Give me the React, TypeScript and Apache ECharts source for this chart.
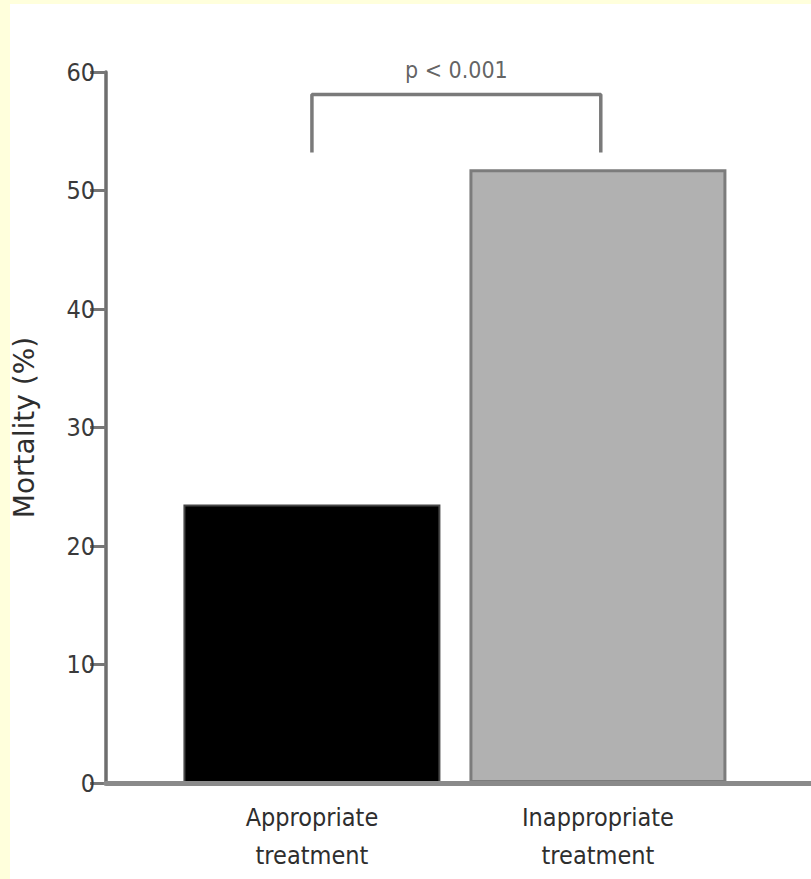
import React, { useEffect, useRef } from "react";
import * as echarts from "echarts";

// Data
const categories: string[] = ["Appropriate\ntreatment", "Inappropriate\ntreatment"];
const categoryPositions: number[] = [1, 2];
const mortality: number[] = [23.5, 51.8];
const yTicks = { min: 0, max: 60, interval: 10 };
const bracketX: number[] = [1, 1, 2.01, 2.01];
const bracketY: number[] = [53.2, 58.1, 58.1, 53.2];
const pLabel = "p < 0.001";
const yName = "Mortality (%)";

const NARROW = "'Liberation Sans Narrow', 'DejaVu Sans Condensed', 'Arial Narrow', sans-serif";

export default function App() {
  const ref = useRef<HTMLDivElement>(null);
  useEffect(() => {
    document.body.style.margin = "0";
    if (!ref.current) return;
    const chart = echarts.init(ref.current, undefined, { renderer: "svg" });
    const barStyles = [
      { color: "#000000", borderColor: "#474747", borderWidth: 2 },
      { color: "#b1b1b1", borderColor: "#7c7c7c", borderWidth: 3 },
    ];
    chart.setOption({
      animation: false,
      backgroundColor: "#ffffdc",
      graphic: [
        {
          type: "rect",
          z: -100,
          silent: true,
          shape: { x: 10, y: 4, width: 801, height: 875 },
          style: { fill: "#ffffff" },
        },
      ],
      grid: { left: 106, right: 0, top: 72, bottom: 96, containLabel: false, outerBoundsMode: "none" },
      xAxis: {
        type: "value",
        min: 0.28,
        max: 2.745,
        z: 3,
        splitLine: { show: false },
        axisTick: { show: false },
        axisLine: { show: true, onZero: false, lineStyle: { color: "#8a8a8a", width: 5 } },
        axisLabel: {
          customValues: categoryPositions,
          formatter: (v: number) => {
            const i = categoryPositions.indexOf(Math.round(v));
            return i >= 0 ? categories[i] : "";
          },
          fontFamily: NARROW,
          fontSize: 25,
          lineHeight: 38,
          color: "#2e2e2e",
          margin: 15,
        },
      },
      yAxis: {
        type: "value",
        min: yTicks.min,
        max: yTicks.max,
        interval: yTicks.interval,
        name: yName,
        nameLocation: "middle",
        nameRotate: 90,
        nameGap: 68,
        nameTextStyle: {
          fontFamily: "'DejaVu Sans', sans-serif",
          fontSize: 28,
          lineHeight: 28,
          color: "#2e2e2e",
        },
        splitLine: { show: false },
        axisLine: { show: true, lineStyle: { color: "#6e6e6e", width: 3.5 } },
        axisTick: { show: true, length: 16, lineStyle: { color: "#777777", width: 3 } },
        axisLabel: { fontFamily: NARROW, fontSize: 25, color: "#3a3a3a", margin: 11 },
      },
      series: [
        {
          type: "bar",
          barWidth: 257,
          data: mortality.map((v, i) => ({ value: [categoryPositions[i], v], itemStyle: barStyles[i] })),
        },
        {
          type: "line",
          symbol: "none",
          silent: true,
          lineStyle: { color: "#7a7a7a", width: 3.5 },
          data: bracketX.map((x, i) => [x, bracketY[i]]),
          z: 4,
        },
        {
          type: "scatter",
          symbolSize: 0,
          silent: true,
          data: [[(bracketX[1] + bracketX[2]) / 2, bracketY[1]]],
          label: {
            show: true,
            position: "top",
            distance: 13,
            formatter: pLabel,
            fontFamily: NARROW,
            fontSize: 23,
            color: "#3a3a3a",
          },
        },
      ],
    });
    return () => chart.dispose();
  }, []);
  return <div ref={ref} style={{ position: "fixed", left: 0, top: 0, width: 811, height: 879 }} />;
}
